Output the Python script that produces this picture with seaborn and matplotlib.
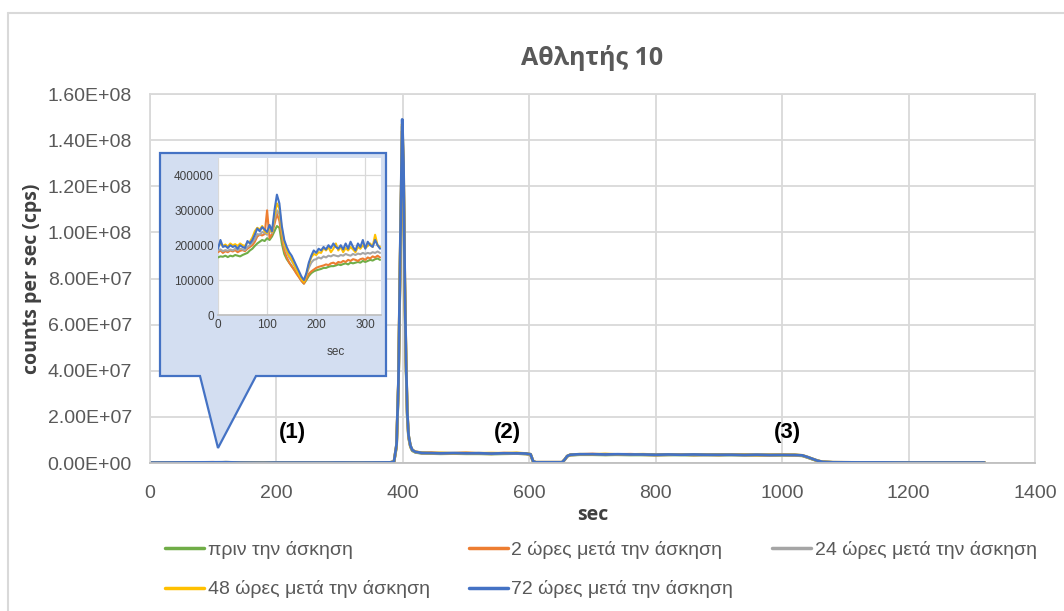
import numpy as np
import pandas as pd
import matplotlib
matplotlib.use("Agg")
import matplotlib.pyplot as plt
import seaborn as sns
from matplotlib.patches import Polygon
from matplotlib.lines import Line2D
from matplotlib.ticker import FuncFormatter

# ---------------- data ----------------
series_names = ["πριν την άσκηση", "2 ώρες μετά την άσκηση", "24 ώρες μετά την άσκηση",
                "48 ώρες μετά την άσκηση", "72 ώρες μετά την άσκηση"]
colors = ["#70AD47", "#ED7D31", "#A5A5A5", "#FFC000", "#4472C4"]

# segment (1): 0-330 s, values in thousands of cps (also shown in the inset)
t_inset = list(range(0, 331, 5))
inset_green = [165,168,167,170,166,170,168,172,170,168,
               172,175,178,185,190,198,205,210,215,212,
               220,215,225,240,255,250,205,175,160,150,
               140,130,120,110,98,90,100,112,120,125,
               128,130,132,135,135,138,140,140,142,145,
               143,146,148,145,150,148,150,152,150,155,
               152,155,158,156,160,162,158]
inset_orange = [180,185,178,183,180,185,182,186,180,184,
                186,183,190,195,200,210,225,230,228,232,
                300,220,232,260,290,270,225,185,165,150,
                140,130,118,108,98,90,105,118,125,130,
                135,138,140,142,145,143,148,150,146,152,
                150,155,152,158,155,160,158,155,160,162,
                158,165,162,168,165,170,165]
inset_gray = [185,188,183,186,184,188,185,190,186,190,
              188,186,195,200,208,218,232,230,238,235,
              230,245,235,275,300,290,240,200,180,165,
              155,142,130,118,105,98,115,135,150,158,
              160,165,162,168,165,170,168,172,170,168,
              172,170,175,172,170,175,172,176,174,178,
              175,178,176,180,178,182,178]
inset_yellow = [195,205,198,202,196,205,200,203,198,205,
                200,198,208,210,222,240,250,245,255,240,
                235,250,238,285,320,305,245,205,185,170,
                160,145,130,115,103,95,115,145,165,175,
                172,180,178,192,185,195,180,190,205,185,
                195,180,192,185,195,188,180,195,190,200,
                192,198,205,195,230,200,195]
inset_blue = [190,215,195,198,192,200,195,198,190,200,
              195,192,212,205,215,230,248,240,252,245,
              238,258,240,300,345,320,255,215,195,180,
              170,155,140,125,110,100,120,150,170,185,
              178,190,185,195,188,200,192,205,195,190,
              200,188,205,190,210,195,185,205,195,215,
              190,210,200,195,215,200,190]

# rest of the run: 340-1320 s, values in millions of cps
t_rest = [340,350,360,370,380,386,390,393,396,399,401,403,405,407,409,412,415,420,430,445,
          460,480,500,520,540,560,580,595,602,606,610,630,652,656,660,665,680,700,720,740,
          760,780,800,820,840,860,880,900,920,940,960,980,1000,1020,1032,1040,1048,1056,1064,1080,
          1120,1160,1200,1240,1280,1320]
rest_green = [0.18,0.18,0.18,0.19,0.22,0.5,7,33,90,140,122,75,42,20,11,7,5.3,4.6,4.2,4.1,
              4.0,4.1,4.0,4.0,3.9,4.0,4.1,3.9,3.6,0.7,0.28,0.28,0.28,1.4,2.9,3.4,3.6,3.6,3.5,3.6,
              3.5,3.5,3.4,3.5,3.5,3.4,3.5,3.4,3.5,3.4,3.4,3.3,3.4,3.3,3.1,2.4,1.6,0.9,0.45,0.28,
              0.22,0.2,0.18,0.18,0.18,0.18]
rest_orange = [0.19,0.19,0.19,0.2,0.24,0.55,7.5,34,92,144,126,78,44,21,11.5,7.2,5.5,4.9,4.3,4.5,
               4.1,4.2,4.4,4.1,4.0,4.3,4.1,4.0,3.7,0.75,0.3,0.29,0.3,1.45,2.95,3.5,3.7,3.9,3.6,3.7,
               3.8,3.6,3.5,3.6,3.7,3.5,3.6,3.5,3.7,3.5,3.5,3.4,3.6,3.4,3.2,2.5,1.7,0.95,0.48,0.29,
               0.24,0.22,0.2,0.19,0.19,0.19]
rest_gray = [0.19,0.19,0.2,0.2,0.24,0.55,7.8,34,93,146,128,79,44,21,11.8,7.3,5.5,4.7,4.3,4.2,
             4.2,4.2,4.1,4.3,4.0,4.1,4.2,4.0,3.7,0.78,0.3,0.3,0.3,1.45,2.95,3.5,3.7,3.7,3.8,3.6,
             3.6,3.7,3.5,3.6,3.6,3.6,3.5,3.6,3.5,3.5,3.5,3.4,3.5,3.4,3.2,2.5,1.7,0.95,0.48,0.29,
             0.24,0.22,0.2,0.19,0.19,0.19]
rest_yellow = [0.2,0.2,0.2,0.21,0.25,0.6,8,35,94,147,129,79,45,22,12,7.4,5.6,4.8,4.5,4.3,
               4.4,4.2,4.3,4.2,4.3,4.2,4.4,4.1,3.8,0.8,0.3,0.3,0.3,1.5,3.0,3.6,3.8,3.7,3.9,3.7,
               3.7,3.8,3.6,3.7,3.6,3.7,3.6,3.7,3.6,3.6,3.5,3.6,3.5,3.6,3.3,2.6,1.8,1.0,0.5,0.3,
               0.25,0.23,0.2,0.2,0.2,0.2]
rest_blue = [0.2,0.2,0.2,0.2,0.25,0.6,8,35,95,149,130,80,45,22,12,7.5,5.6,4.8,4.4,4.3,
             4.2,4.3,4.2,4.2,4.1,4.2,4.2,4.1,3.8,0.8,0.3,0.3,0.3,1.5,3.0,3.6,3.8,3.8,3.7,3.8,
             3.7,3.7,3.6,3.7,3.6,3.7,3.6,3.6,3.6,3.5,3.6,3.5,3.5,3.5,3.3,2.6,1.8,1.0,0.5,0.3,
             0.25,0.25,0.2,0.2,0.2,0.2]

inset_vals = [inset_green, inset_orange, inset_gray, inset_yellow, inset_blue]
rest_vals = [rest_green, rest_orange, rest_gray, rest_yellow, rest_blue]

y_ticks_main = [0, 2e7, 4e7, 6e7, 8e7, 1e8, 1.2e8, 1.4e8, 1.6e8]
x_ticks_main = [0, 200, 400, 600, 800, 1000, 1200, 1400]
y_ticks_inset = [0, 100000, 200000, 300000, 400000]
x_ticks_inset = [0, 100, 200, 300]
region_labels = ["(1)", "(2)", "(3)"]
region_x = [225, 565, 1008]
region_y = [1.34e7, 1.34e7, 1.34e7]

# build long tables
rows_main, rows_in = [], []
for name, iv, rv in zip(series_names, inset_vals, rest_vals):
    for t, v in zip(t_inset, iv):
        rows_main.append((name, t, v * 1e3))
        rows_in.append((name, t, v * 1e3))
    for t, v in zip(t_rest, rv):
        rows_main.append((name, t, v * 1e6))
df_main = pd.DataFrame(rows_main, columns=["series", "sec", "cps"])
df_in = pd.DataFrame(rows_in, columns=["series", "sec", "cps"])
palette = dict(zip(series_names, colors))

# ---------------- figure ----------------
sns.set_theme(style="white")
plt.rcParams["font.family"] = ["Liberation Sans", "DejaVu Sans"]
W, H = 1064, 611
fig = plt.figure(figsize=(W / 100, H / 100), dpi=100)
fig.patch.set_facecolor("white")

def fx(px):
    return px / W

def fy(py):
    return 1 - py / H

# outer chart border (left and top visible)
fig.add_artist(Line2D([fx(8), fx(8)], [fy(13), 0], color="#D9D9D9", lw=1.5, transform=fig.transFigure))
fig.add_artist(Line2D([fx(8), 1], [fy(13), fy(13)], color="#D9D9D9", lw=1.5, transform=fig.transFigure))

ax = fig.add_axes([fx(150), fy(463), fx(1035 - 150), (463 - 94) / H])
sns.lineplot(data=df_main, x="sec", y="cps", hue="series", palette=palette,
             hue_order=series_names, estimator=None, sort=False, lw=2.0, ax=ax, legend=False)
ax.set_xlim(0, 1400)
ax.set_ylim(0, 1.6e8)
ax.set_xticks(x_ticks_main)
ax.set_yticks(y_ticks_main)
ax.yaxis.set_major_formatter(FuncFormatter(lambda v, p: f"{v:.2E}"))
ax.grid(True, color="#D9D9D9", lw=1.3)
ax.set_axisbelow(True)
for s in ax.spines.values():
    s.set_color("#D9D9D9")
    s.set_linewidth(1.3)
ax.spines["bottom"].set_color("#BFBFBF")
ax.tick_params(axis="x", length=0, labelsize=14, colors="#595959", pad=16)
ax.tick_params(axis="y", length=0, labelsize=14, colors="#595959", pad=13)
ax.set_xlabel("sec", fontsize=14, fontweight="bold", color="#404040", labelpad=2,
              family=["Open Sans", "DejaVu Sans"])
ax.set_ylabel("counts per sec (cps)", fontsize=14, fontweight="bold", color="#404040", labelpad=4,
              family=["Open Sans", "DejaVu Sans"])
ax.set_title("Αθλητής 10", fontsize=18, fontweight="bold", color="#595959", pad=21,
             family=["Open Sans", "DejaVu Sans"])

for lab, xx, yy in zip(region_labels, region_x, region_y):
    ax.text(xx, yy, lab, fontsize=16, fontweight="bold", color="black", ha="center", va="center")

# inset callout box
callout = [(160, 153), (386, 153), (386, 376), (256, 376), (218, 448), (200, 376), (160, 376)]
poly = Polygon([(fx(x), fy(y)) for x, y in callout], closed=True, transform=fig.transFigure,
               facecolor="#D3DEF1", edgecolor="#4472C4", lw=1.6, zorder=5)
fig.add_artist(poly)

axi = fig.add_axes([fx(218), fy(315), fx(381 - 218), (315 - 158) / H], zorder=6)
axi.set_facecolor("white")
sns.lineplot(data=df_in, x="sec", y="cps", hue="series", palette=palette,
             hue_order=series_names, estimator=None, sort=False, lw=1.5, ax=axi, legend=False)
axi.set_xlim(0, 332)
axi.set_ylim(0, 450000)
axi.set_xticks(x_ticks_inset)
axi.set_yticks(y_ticks_inset)
axi.grid(True, color="#D9D9D9", lw=0.9)
for s in axi.spines.values():
    s.set_visible(False)
axi.spines["bottom"].set_visible(True)
axi.spines["bottom"].set_color("#BFBFBF")
axi.tick_params(axis="both", length=0, labelsize=8.5, colors="#404040", pad=3)
axi.set_xlabel("sec", fontsize=8.5, color="#404040", labelpad=2)
axi.xaxis.set_label_coords(0.72, -0.2)
axi.set_ylabel("")

# legend
handles = [Line2D([0], [0], color=c, lw=2.5) for c in colors]
order = [0, 3, 1, 4, 2]
leg = fig.legend([handles[i] for i in order], [series_names[i] for i in order],
                 ncol=3, loc="upper left", bbox_to_anchor=(fx(165), fy(541)),
                 frameon=False, fontsize=14, handlelength=2.0, handletextpad=0.2,
                 columnspacing=2.0, labelspacing=1.1, borderaxespad=0, borderpad=0)
for t in leg.get_texts():
    t.set_color("#595959")

fig.savefig("out.png", dpi=100, facecolor="white")
